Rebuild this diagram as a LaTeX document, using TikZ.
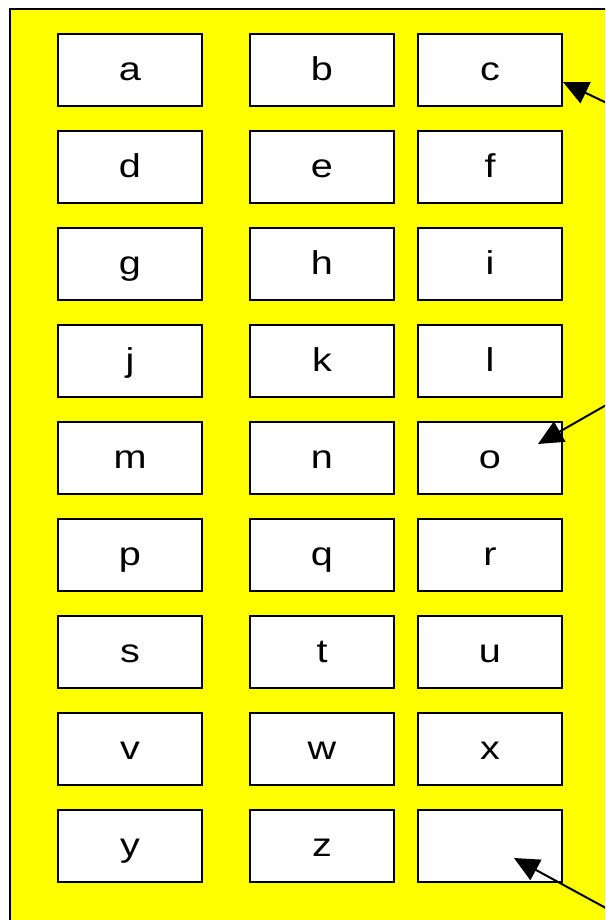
\documentclass[tikz,border=0pt]{standalone}
\usepackage{fontspec}
\setmainfont{Liberation Sans}[FakeStretch=1.2]
\usetikzlibrary{positioning,arrows.meta}
\definecolor{bgyellow}{RGB}{255,255,0}

\begin{document}
\begin{tikzpicture}[
x=1pt, y=-1pt,
node distance=23pt and 22pt,
box/.style={draw, line width=2pt, fill=white, minimum width=144pt, minimum height=72pt, text height=24pt, text depth=3pt, font=\fontsize{33}{40}\selectfont},
arr/.style={-{Triangle[length=25pt,width=23pt]}, line width=2pt}
]
\useasboundingbox (0,0) rectangle (605,920);
\fill[white] (0,0) rectangle (605,920);
\clip (0,0) rectangle (605,920);
\draw[fill=bgyellow, line width=2pt] (9.5,9.5) rectangle (620,935);
\node[box] (a) at (130,70) {a};
\node[box, right=46pt of a] (b) {b};
\node[box, right=of b] (c) {c};
\node[box, below=of a] (d) {d};
\node[box, below=of b] (e) {e};
\node[box, below=of c] (f) {f};
\node[box, below=of d] (g) {g};
\node[box, below=of e] (h) {h};
\node[box, below=of f] (i) {i};
\node[box, below=of g] (j) {j};
\node[box, below=of h] (k) {k};
\node[box, below=of i] (l) {l};
\node[box, below=of j] (m) {m};
\node[box, below=of k] (n) {n};
\node[box, below=of l] (o) {o};
\node[box, below=of m] (p) {p};
\node[box, below=of n] (q) {q};
\node[box, below=of o] (r) {r};
\node[box, below=of p] (s) {s};
\node[box, below=of q] (t) {t};
\node[box, below=of r] (u) {u};
\node[box, below=of s] (v) {v};
\node[box, below=of t] (w) {w};
\node[box, below=of u] (x) {x};
\node[box, below=of v] (y) {y};
\node[box, below=of w] (z) {z};
\node[box, below=of x] (blank) {};
\coordinate (pc) at (615,107);
\coordinate (po) at (615,400);
\coordinate (pblank) at (615,913);
\draw[arr] (pc) -- ([yshift=-12pt]c.east);
\draw[arr] (po) -- ([shift={(48pt,14pt)}]o.center);
\draw[arr] (pblank) -- ([shift={(24pt,-12pt)}]blank.center);
\end{tikzpicture}
\end{document}
